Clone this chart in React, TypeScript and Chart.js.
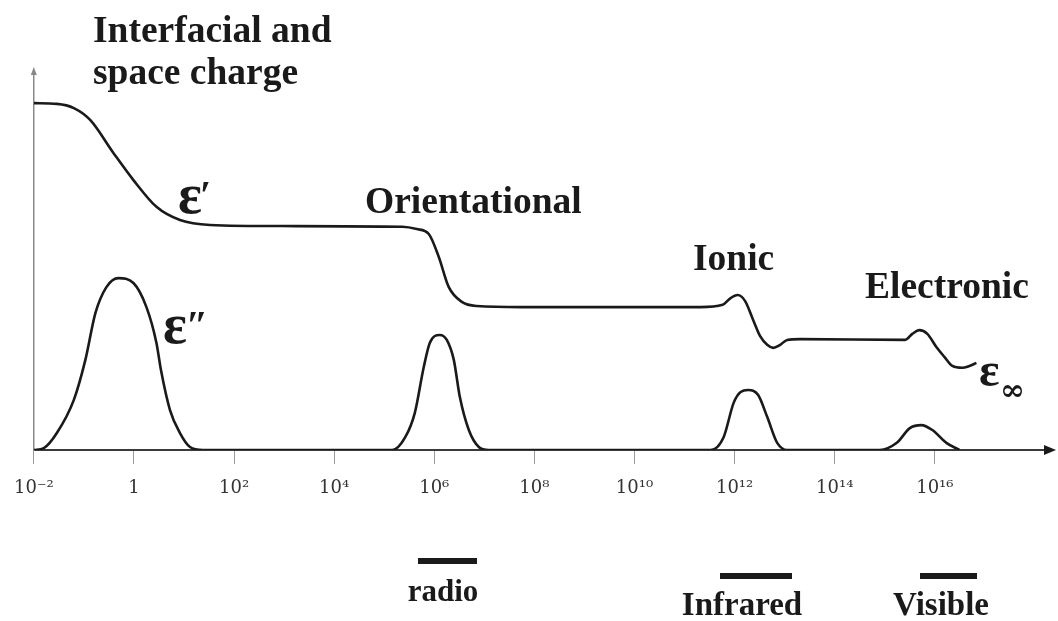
import React, { useEffect, useRef } from "react";
import { Chart, registerables } from "chart.js";

Chart.register(...registerables);

// log10(frequency / Hz) positions and relative permittivity
const realLogF = [-2, -1.54, -1.2, -0.87, -0.41, -0.01, 0.45, 0.92, 1.52, 2.97, 5.36, 5.65, 5.89, 6.09, 6.29, 6.55, 6.85, 7.74, 11.32, 11.76, 11.92, 12.06, 12.21, 12.37, 12.51, 12.65, 12.77, 12.91, 13.05, 13.31, 15.4, 15.55, 15.69, 15.85, 16.03, 16.19, 16.35, 16.55, 16.69, 16.83];
const realEps = [9.2, 9.18, 9.07, 8.75, 7.88, 7.16, 6.45, 6.1, 5.97, 5.94, 5.92, 5.86, 5.73, 5.12, 4.32, 3.93, 3.82, 3.79, 3.79, 3.85, 4.03, 4.11, 3.95, 3.45, 3.02, 2.79, 2.71, 2.79, 2.92, 2.94, 2.92, 3.08, 3.18, 3.08, 2.73, 2.47, 2.23, 2.18, 2.23, 2.31];

const imagLogF = [-2, -1.8, -1.54, -1.2, -0.97, -0.77, -0.55, -0.31, -0.01, 0.25, 0.45, 0.54, 0.72, 0.92, 1.12, 1.38, 5.16, 5.42, 5.61, 5.79, 5.91, 6.11, 6.25, 6.39, 6.51, 6.69, 6.89, 7.09, 11.52, 11.78, 11.98, 12.12, 12.27, 12.47, 12.65, 12.85, 13.05, 14.9, 15.24, 15.5, 15.73, 15.95, 16.23, 16.49];
const imagEps = [0, 0.05, 0.45, 1.33, 2.39, 3.63, 4.32, 4.56, 4.43, 3.79, 2.84, 2.12, 1.06, 0.45, 0.08, 0, 0, 0.34, 0.98, 2.2, 2.84, 3.05, 2.92, 2.39, 1.41, 0.53, 0.08, 0, 0, 0.34, 1.25, 1.54, 1.59, 1.46, 0.88, 0.19, 0, 0, 0.19, 0.58, 0.66, 0.53, 0.19, 0];

const tickValues = [-2, 0, 2, 4, 6, 8, 10, 12, 14, 16];
const tickLabels = ["10⁻²", "1", "10²", "10⁴", "10⁶", "10⁸", "10¹⁰", "10¹²", "10¹⁴", "10¹⁶"];

const mechanismLabels = ["Interfacial and", "space charge", "Orientational", "Ionic", "Electronic"];
const bandLabels = ["radio", "Infrared", "Visible"];

const SERIF = "'Liberation Serif', 'DejaVu Serif', serif";
const INK = "#1a1a1a";

const annotationPlugin = {
  id: "annotations",
  afterDraw(chart: any) {
    const ctx = chart.ctx as CanvasRenderingContext2D;
    const { left, right, top, bottom } = chart.chartArea;
    ctx.save();
    ctx.fillStyle = INK;

    // arrow heads of the axes
    ctx.beginPath();
    ctx.moveTo(right + 6, bottom);
    ctx.lineTo(right - 6, bottom - 5);
    ctx.lineTo(right - 6, bottom + 5);
    ctx.closePath();
    ctx.fill();
    ctx.fillStyle = "#888";
    ctx.beginPath();
    ctx.moveTo(left, top - 6);
    ctx.lineTo(left - 3, top + 2);
    ctx.lineTo(left + 3, top + 2);
    ctx.closePath();
    ctx.fill();

    ctx.fillStyle = INK;
    ctx.textBaseline = "alphabetic";
    ctx.textAlign = "left";
    ctx.font = `bold 37.5px ${SERIF}`;
    ctx.fillText(mechanismLabels[0], 93, 42);
    ctx.fillText(mechanismLabels[1], 93, 84);
    ctx.fillText(mechanismLabels[2], 365, 213);
    ctx.fillText(mechanismLabels[3], 693, 270);
    ctx.fillText(mechanismLabels[4], 865, 298);

    // epsilon symbols
    ctx.font = `bold 56px ${SERIF}`;
    ctx.fillText("ε", 178, 213);
    ctx.fillText("ε", 163, 343);
    ctx.font = `bold 40px ${SERIF}`;
    ctx.fillText("′", 200, 208);
    ctx.fillText("″", 186, 338);
    ctx.font = `bold 48px ${SERIF}`;
    ctx.fillText("ε", 979, 386);
    ctx.font = `bold 30px 'DejaVu Serif', serif`;
    ctx.fillText("∞", 1000, 400);

    // spectral bands
    ctx.fillRect(418, 558, 59, 6);
    ctx.fillRect(720, 573, 72, 6);
    ctx.fillRect(920, 573, 57, 6);
    ctx.textAlign = "center";
    ctx.font = `bold 31px ${SERIF}`;
    ctx.fillText(bandLabels[0], 443, 601);
    ctx.font = `bold 33px ${SERIF}`;
    ctx.fillText(bandLabels[1], 742, 615);
    ctx.fillText(bandLabels[2], 941, 615);
    ctx.restore();
  },
};

export default function App() {
  const canvasRef = useRef<HTMLCanvasElement | null>(null);

  useEffect(() => {
    document.body.style.margin = "0";
    const canvas = canvasRef.current;
    if (!canvas) return;
    const chart = new Chart(canvas, {
      type: "line",
      data: {
        datasets: [
          {
            label: "ε′",
            data: realLogF.map((x, i) => ({ x, y: realEps[i] })),
            borderColor: INK,
            borderWidth: 2.6,
            pointRadius: 0,
            cubicInterpolationMode: "monotone",
            fill: false,
          },
          {
            label: "ε″",
            data: imagLogF.map((x, i) => ({ x, y: imagEps[i] })),
            borderColor: INK,
            borderWidth: 2.6,
            pointRadius: 0,
            cubicInterpolationMode: "monotone",
            fill: false,
          },
        ],
      },
      options: {
        responsive: false,
        animation: false,
        devicePixelRatio: 1,
        layout: { padding: { left: 30, top: 73, right: 8, bottom: 101 } },
        plugins: {
          legend: { display: false },
          tooltip: { enabled: false },
        },
        scales: {
          x: {
            type: "linear",
            min: -2,
            max: 18.3,
            afterFit: (scale: any) => {
              scale.height = 70;
            },
            afterBuildTicks: (scale: any) => {
              scale.ticks = tickValues.map((v) => ({ value: v }));
            },
            border: { display: true, color: "#3a3a3a", width: 2, dash: [12, 2] },
            grid: {
              display: true,
              drawOnChartArea: false,
              drawTicks: true,
              tickLength: 14,
              tickColor: "#9a9a9a",
              tickWidth: 1,
            },
            ticks: {
              autoSkip: false,
              maxRotation: 0,
              padding: 14,
              color: "#333",
              font: { family: "'DejaVu Serif', serif", size: 18 },
              callback: (_v: any, i: number) => tickLabels[i] ?? "",
            },
          },
          y: {
            type: "linear",
            min: 0,
            max: 10,
            afterFit: (scale: any) => {
              scale.width = 0;
            },
            border: { display: true, color: "#8a8a8a", width: 1.5, dash: [3, 3] },
            grid: { display: true, drawOnChartArea: false, drawTicks: false },
            ticks: { display: false },
          },
        },
      },
      plugins: [annotationPlugin],
    });
    return () => chart.destroy();
  }, []);

  return (
    <div style={{ position: "absolute", left: 0, top: 0, width: 1058, height: 621, background: "#fff" }}>
      <canvas ref={canvasRef} width={1058} height={621} style={{ display: "block" }} />
    </div>
  );
}
